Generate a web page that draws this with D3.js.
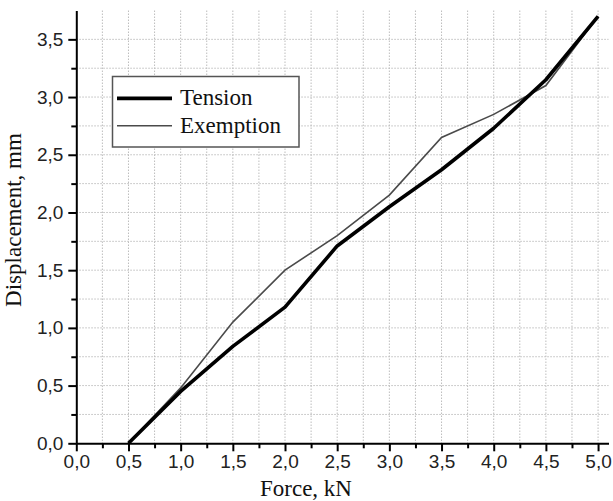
<!DOCTYPE html>
<html>
<head>
<meta charset="utf-8">
<script src="https://cdn.jsdelivr.net/npm/d3@7"></script>
<style>
  body { margin: 0; background: #fff; }
  svg { display: block; }
</style>
</head>
<body>
<div id="chartContainer"></div>
<script>
// values
const force = [0.5, 1.0, 1.5, 2.0, 2.5, 3.0, 3.5, 4.0, 4.5, 5.0];
const tension = [0, 0.45, 0.84, 1.18, 1.71, 2.05, 2.37, 2.73, 3.15, 3.70];
const exemption = [0, 0.48, 1.05, 1.50, 1.80, 2.15, 2.65, 2.85, 3.10, 3.70];
const xTicks = [0, 0.5, 1.0, 1.5, 2.0, 2.5, 3.0, 3.5, 4.0, 4.5, 5.0];
const yTicks = [0, 0.5, 1.0, 1.5, 2.0, 2.5, 3.0, 3.5];
const xMinor = [0.25, 0.75, 1.25, 1.75, 2.25, 2.75, 3.25, 3.75, 4.25, 4.75];
const yMinor = [0.25, 0.75, 1.25, 1.75, 2.25, 2.75, 3.25];
const seriesNames = ["Tension", "Exemption"];

const W = 613, H = 501;
const margin = { top: 10.5, right: 4.5, bottom: 57.7, left: 76.3 };
const plotW = W - margin.left - margin.right;
const plotH = H - margin.top - margin.bottom;

const svg = d3.select("#chartContainer").append("svg")
  .attr("width", W)
  .attr("height", H);

const g = svg.append("g")
  .attr("transform", `translate(${margin.left}, ${margin.top})`);

const x = d3.scaleLinear().domain([0, 5.1]).range([0, plotW]);
const y = d3.scaleLinear().domain([0, 3.75]).range([plotH, 0]);

const fmt = v => d3.format(".1f")(v).replace(".", ",");

// grid, dotted, every 0.25
const gridX = xTicks.concat(xMinor).filter(v => v > 0);
const gridY = yTicks.concat(yMinor).filter(v => v > 0);

g.append("g").selectAll("line")
  .data(gridX)
  .enter().append("line")
  .attr("x1", d => x(d)).attr("x2", d => x(d))
  .attr("y1", 0).attr("y2", plotH)
  .attr("stroke", "#bdbdbd")
  .attr("stroke-width", 1)
  .attr("stroke-dasharray", "1.5,1.5");

g.append("g").selectAll("line")
  .data(gridY)
  .enter().append("line")
  .attr("y1", d => y(d)).attr("y2", d => y(d))
  .attr("x1", 0).attr("x2", plotW)
  .attr("stroke", "#bdbdbd")
  .attr("stroke-width", 1)
  .attr("stroke-dasharray", "1.5,1.5");

// lines
const pts = (vals) => force.map((f, i) => [f, vals[i]]);
const line = d3.line().x(d => x(d[0])).y(d => y(d[1]));

g.append("path")
  .datum(pts(exemption))
  .attr("d", line)
  .attr("fill", "none")
  .attr("stroke", "#4a4a4a")
  .attr("stroke-width", 1.6);

g.append("path")
  .datum(pts(tension))
  .attr("d", line)
  .attr("fill", "none")
  .attr("stroke", "#000")
  .attr("stroke-width", 3.6)
  .attr("stroke-linejoin", "round");

// X axis
const xAxis = d3.axisBottom(x).tickValues(xTicks).tickFormat(fmt).tickSize(8).tickSizeOuter(0).tickPadding(3);
g.append("g")
  .attr("transform", `translate(0, ${plotH})`)
  .call(xAxis);
g.append("g")
  .attr("transform", `translate(0, ${plotH})`)
  .call(d3.axisBottom(x).tickValues(xMinor).tickFormat("").tickSize(5).tickSizeOuter(0))
  .select(".domain").remove();

// Y axis
const yAxis = d3.axisLeft(y).tickValues(yTicks).tickFormat(fmt).tickSize(8).tickSizeOuter(0).tickPadding(5);
g.append("g").call(yAxis);
g.append("g")
  .call(d3.axisLeft(y).tickValues(yMinor).tickFormat("").tickSize(5).tickSizeOuter(0))
  .select(".domain").remove();

g.selectAll(".tick line").attr("stroke", "#000").attr("stroke-width", 2);
g.selectAll(".domain").attr("stroke", "#000").attr("stroke-width", 2);
g.selectAll(".tick text")
  .attr("fill", "#222")
  .style("font-family", "'Liberation Sans', Arial, sans-serif")
  .style("font-size", "19px");

// axis titles
svg.append("text")
  .attr("x", 306)
  .attr("y", 496)
  .attr("text-anchor", "middle")
  .style("font-family", "'Liberation Serif', 'Times New Roman', serif")
  .style("font-size", "23px")
  .attr("fill", "#111")
  .text("Force, kN");

svg.append("text")
  .attr("transform", "translate(21, 220) rotate(-90)")
  .attr("text-anchor", "middle")
  .style("font-family", "'Liberation Serif', 'Times New Roman', serif")
  .style("font-size", "23px")
  .attr("fill", "#111")
  .text("Displacement, mm");

// legend
const legend = svg.append("g");
legend.append("rect")
  .attr("x", 112.5).attr("y", 76.5)
  .attr("width", 186.5).attr("height", 70.5)
  .attr("fill", "#fff")
  .attr("stroke", "#555")
  .attr("stroke-width", 1.5);

const legendRows = [
  { name: seriesNames[0], color: "#000", width: 3.8, ly: 98.3 },
  { name: seriesNames[1], color: "#4a4a4a", width: 1.6, ly: 125.7 }
];
legendRows.forEach(r => {
  legend.append("line")
    .attr("x1", 117).attr("x2", 172)
    .attr("y1", r.ly).attr("y2", r.ly)
    .attr("stroke", r.color)
    .attr("stroke-width", r.width);
  legend.append("text")
    .attr("x", 180)
    .attr("y", r.ly + 7)
    .style("font-family", "'Liberation Serif', 'Times New Roman', serif")
    .style("font-size", "23px")
    .attr("fill", "#111")
    .text(r.name);
});
</script>
</body>
</html>
